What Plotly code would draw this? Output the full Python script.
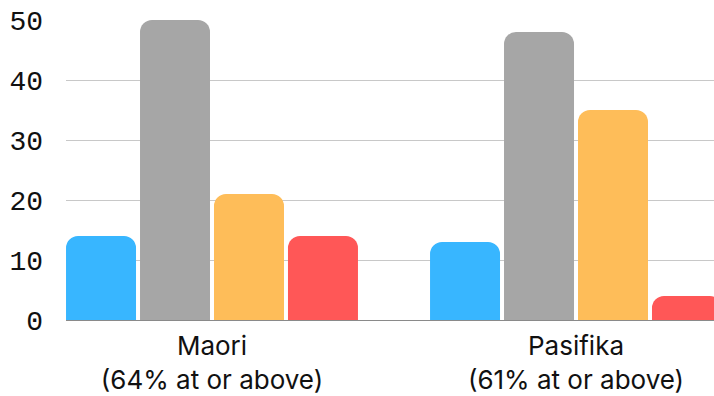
import plotly.graph_objects as go

categories = ["Maori<br>(64% at or above)", "Pasifika<br>(61% at or above)"]
series_names = ["Below", "At", "Above", "Well above"]
series_values = [
    [14, 13],
    [50, 48],
    [21, 35],
    [14, 4],
]
colors = ["#38B6FF", "#A6A6A6", "#FEBD59", "#FF5757"]
y_ticks = [0, 10, 20, 30, 40, 50]

fig = go.Figure()
for name, vals, c in zip(series_names, series_values, colors):
    fig.add_trace(go.Bar(x=categories, y=vals, name=name, marker=dict(color=c, line=dict(width=0))))

fig.update_layout(
    width=714, height=396,
    margin=dict(l=66, r=0, t=20, b=76),
    paper_bgcolor="white", plot_bgcolor="white",
    barmode="group", bargap=0.187, bargroupgap=0.054,
    barcornerradius=12,
    showlegend=False,
    font=dict(family="Inter, Roboto, sans-serif", color="#111111"),
)
fig.update_xaxes(
    range=[-0.4011, 1.3791], showgrid=False, showline=True, linecolor="#8a8a8a", linewidth=1,
    ticks="", ticklabelstandoff=3, tickfont=dict(size=26, family="Inter, sans-serif", color="#111111"),
)
fig.update_yaxes(
    range=[0, 50], tickvals=y_ticks, showgrid=True, gridcolor="#c8c8c8", gridwidth=1,
    zeroline=False, showline=False, ticks="", ticklabelstandoff=22,
    tickfont=dict(size=28, family="Liberation Mono, monospace", color="#111111"),
)
fig.write_html("out.html")
